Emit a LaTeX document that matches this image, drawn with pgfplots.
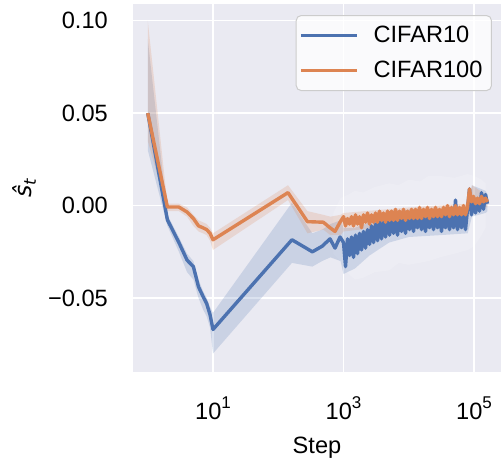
\documentclass[border=0pt]{standalone}
\usepackage{fontspec}
\setmainfont{Liberation Sans}
\newfontfamily\dejavu{DejaVu Sans}
\usepackage{pgfplots}
\pgfplotsset{compat=1.18}
\definecolor{sbblue}{RGB}{76,114,176}
\definecolor{sborange}{RGB}{221,132,82}
\definecolor{sbbg}{RGB}{234,234,242}
\definecolor{sblegend}{RGB}{204,204,204}
\newcommand\tp[1]{10\raisebox{11bp}{\fontsize{17bp}{17bp}\selectfont #1}}
\begin{document}
\fontsize{23.6bp}{28bp}\selectfont
\begin{tikzpicture}
\begin{axis}[
 scale only axis, width=368bp, height=368bp,
 xmode=log, xmin=0.594, xmax=2.59e5, ymin=-0.09, ymax=0.109,
 axis background/.style={fill=sbbg},
 axis line style={draw=none},
 major tick length=0pt, minor tick length=0pt, xminorticks=false,
 xtick={10,1000,100000}, xticklabels={\tp{1},\tp{3},\tp{5}},
 ytick={-0.05,0,0.05,0.1}, yticklabels={−0.05,0.00,0.05,0.10},
 grid=major, major grid style={white, line width=1.6bp},
 xticklabel style={anchor=base, inner sep=0pt, yshift=-47bp},
 yticklabel style={anchor=east, inner sep=0pt, xshift=-25bp},
 every axis x label/.style={at={(axis description cs:0.5,-0.2228)}, anchor=base},
 every axis y label/.style={at={(axis description cs:-0.2745,0.5)}, rotate=90, anchor=base},
 xlabel={Step}, ylabel={{\dejavu\itshape ŝ\raisebox{-4bp}{\fontsize{16.5bp}{16bp}\selectfont t}}},
 legend style={at={(0.9755,0.970)}, anchor=north east, draw=sblegend, line width=1bp,
   fill=white, fill opacity=0.8, text opacity=1, draw opacity=1, rounded corners=5bp,
   inner xsep=3bp, inner ysep=6bp, row sep=7bp, column sep=9bp,
   nodes={inner xsep=6bp, inner ysep=4bp},
   font=\fontsize{23.6bp}{28bp}\selectfont},
 legend cell align=left,
 legend image code/.code={\path (-4bp,0bp) -- (52bp,0bp); \draw[#1, line width=3.4bp] (0bp,0bp) -- (52bp,0bp);},
]
% faint whitish spread in the noisy region
\addplot[draw=none, fill=white, fill opacity=0.18, forget plot] coordinates {
 (700,-0.004) (900,0.004) (1200,0.006) (1500,0.008) (2000,0.007) (3000,0.010) (5000,0.012) (7000,0.011) (10000,0.014) (15000,0.013) (20000,0.016) (30000,0.016) (50000,0.015) (80000,0.017) (100000,0.016) (130000,0.014) (150000,0.012)
 (150000,-0.012) (130000,-0.016) (100000,-0.022) (80000,-0.024) (50000,-0.026) (30000,-0.028) (20000,-0.030) (10000,-0.032) (7000,-0.031) (5000,-0.035) (3000,-0.036) (2000,-0.039) (1500,-0.040) (1200,-0.037) (900,-0.030) (700,-0.026)} --cycle;
% blue band
\addplot[draw=none, fill=sbblue, fill opacity=0.2, forget plot] coordinates {
 (1,0.090) (2,-0.005) (3,-0.017) (4,-0.026) (5,-0.030) (6,-0.040) (7,-0.046) (8,-0.050) (9,-0.055) (10,-0.058) (162,0.0015) (333,-0.015) (470,-0.013) (630,-0.010) (900,-0.008) (1000,-0.012) (1500,-0.012) (2500,-0.009) (5000,-0.005) (10000,-0.002) (30000,-0.002) (80000,-0.001) (93000,0.011) (150000,0.008) (160827,0.006)
 (160827,-0.003) (150000,-0.004) (93000,-0.006) (80000,-0.015) (30000,-0.016) (10000,-0.017) (5000,-0.020) (2500,-0.027) (1500,-0.034) (1000,-0.037) (900,-0.030) (630,-0.028) (470,-0.030) (333,-0.033) (162,-0.031) (10,-0.080) (9,-0.066) (8,-0.060) (7,-0.056) (6,-0.050) (5,-0.040) (4,-0.036) (3,-0.025) (2,-0.011) (1,0.030)} --cycle;
% orange band
\addplot[draw=none, fill=sborange, fill opacity=0.2, forget plot] coordinates {
 (1,0.100) (2,0.001) (3,0.001) (4,-0.001) (5,-0.005) (6,-0.008) (7,-0.009) (8,-0.010) (9,-0.012) (10,-0.015) (141,0.011) (280,-0.003) (490,-0.005) (630,-0.006) (900,-0.005) (1000,-0.004) (10000,-0.001) (80000,0.001) (93000,0.011) (150000,0.006) (160827,0.005)
 (160827,-0.001) (150000,-0.001) (93000,0.000) (80000,-0.007) (10000,-0.010) (1000,-0.014) (900,-0.016) (630,-0.016) (490,-0.013) (280,-0.015) (141,0.003) (10,-0.024) (9,-0.019) (8,-0.016) (7,-0.015) (6,-0.014) (5,-0.011) (4,-0.006) (3,-0.003) (2,-0.003) (1,0.035)} --cycle;
% CIFAR10
\addplot[sbblue, line width=3.4bp, line join=round] coordinates {
 (1,0.050) (2,-0.0077) (3,-0.020) (4,-0.0295) (5,-0.033) (6,-0.044) (7,-0.049) (8,-0.053) (9,-0.059) (10,-0.067)
 (162,-0.0185) (333,-0.025) (470,-0.022) (621,-0.018) (741,-0.023) (884,-0.017)
 (1000,-0.020) (1073,-0.033) (1152,-0.018) (1236,-0.027) (1326,-0.017) (1423,-0.028) (1527,-0.016) (1639,-0.026) (1759,-0.015) (1887,-0.024)
 (2025,-0.014) (2173,-0.023) (2332,-0.013) (2503,-0.021) (2686,-0.011) (2882,-0.020) (3093,-0.010) (3319,-0.019) (3561,-0.008) (3822,-0.018)
 (4101,-0.009) (4401,-0.017) (4723,-0.006) (5068,-0.016) (5438,-0.007) (5836,-0.015) (6263,-0.005) (6721,-0.016) (7212,-0.004) (7739,-0.014)
 (8305,-0.005) (8912,-0.015) (9564,-0.004) (10263,-0.013) (11013,-0.003) (11818,-0.014) (12682,-0.004) (13609,-0.012) (14604,-0.003) (15672,-0.013)
 (16818,-0.004) (18047,-0.014) (19367,-0.003) (20783,-0.012) (22302,-0.004) (23932,-0.013) (25682,-0.003) (27560,-0.012) (29574,-0.004) (31737,-0.014)
 (34057,-0.003) (36547,-0.012) (39218,-0.002) (42086,-0.013) (45162,-0.003) (48464,-0.012) (52007,0.003) (55809,-0.013) (59890,-0.004) (64268,-0.012)
 (68966,-0.003) (74008,-0.013) (79419,-0.002) (85225,0.009) (91456,-0.005) (98142,0.004) (105317,-0.004) (113016,0.003) (121278,-0.003) (130145,0.007)
 (139660,-0.002) (149870,0.006) (160827,0.001)};
\addlegendentry{CIFAR10\hspace{6bp}}
% CIFAR100
\addplot[sborange, line width=3.4bp, line join=round] coordinates {
 (1,0.050) (2,-0.0008) (3,-0.0008) (4,-0.0035) (5,-0.007) (6,-0.011) (7,-0.012) (8,-0.013) (9,-0.015) (10,-0.0185)
 (141,0.007) (280,-0.0087) (490,-0.009) (621,-0.012) (741,-0.014) (884,-0.009)
 (1000,-0.006) (1073,-0.011) (1152,-0.007) (1236,-0.010) (1326,-0.006) (1423,-0.011) (1527,-0.005) (1639,-0.010) (1759,-0.006) (1887,-0.012)
 (2025,-0.005) (2173,-0.009) (2332,-0.004) (2503,-0.010) (2686,-0.005) (2882,-0.009) (3093,-0.004) (3319,-0.009) (3561,-0.003) (3822,-0.008)
 (4101,-0.004) (4401,-0.009) (4723,-0.003) (5068,-0.008) (5438,-0.003) (5836,-0.008) (6263,-0.002) (6721,-0.008) (7212,-0.003) (7739,-0.007)
 (8305,-0.002) (8912,-0.008) (9564,-0.003) (10263,-0.007) (11013,-0.002) (11818,-0.007) (12682,-0.002) (13609,-0.007) (14604,-0.001) (15672,-0.007)
 (16818,-0.002) (18047,-0.006) (19367,-0.001) (20783,-0.007) (22302,-0.002) (23932,-0.006) (25682,-0.001) (27560,-0.006) (29574,-0.002) (31737,-0.006)
 (34057,-0.001) (36547,-0.005) (39218,0.000) (42086,-0.006) (45162,-0.001) (48464,-0.005) (52007,0.000) (55809,-0.005) (59890,-0.001) (64268,-0.005)
 (68966,0.000) (74008,-0.005) (79419,-0.001) (85225,0.009) (91456,0.002) (98142,0.005) (105317,0.001) (113016,0.004) (121278,0.001) (130145,0.005)
 (139660,0.002) (149870,0.004) (160827,0.002)};
\addlegendentry{CIFAR100\hspace{6bp}}
\end{axis}
\pgfresetboundingbox
\path[use as bounding box] ([shift={(-133bp,-92bp)}]current axis.south west) rectangle ([shift={(0bp,4bp)}]current axis.north east);
\end{tikzpicture}
\end{document}
